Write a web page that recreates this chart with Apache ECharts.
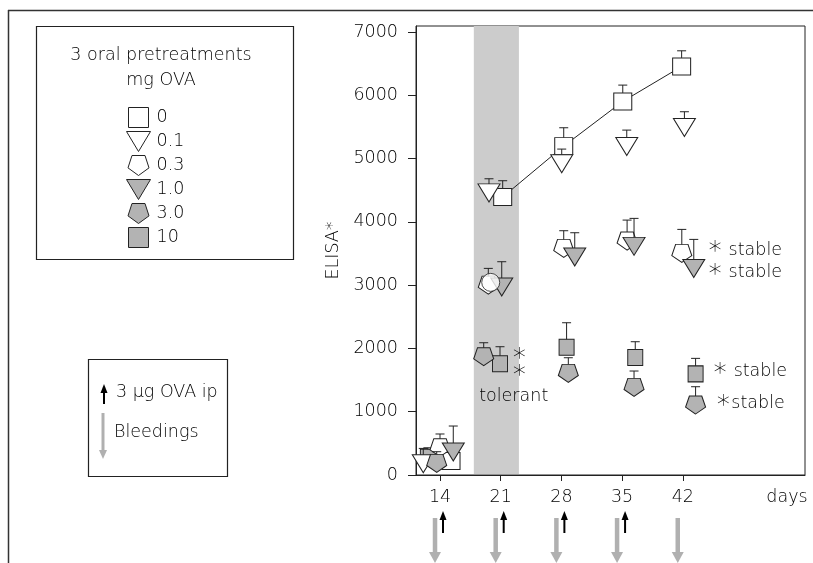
<!DOCTYPE html>
<html>
<head>
<meta charset="utf-8">
<script src="https://cdn.jsdelivr.net/npm/echarts@6/dist/echarts.min.js"></script>
<style>
  html, body { margin: 0; padding: 0; background: #fff; }
  #chart { width: 813px; height: 563px; }
</style>
</head>
<body>
<div id="chart"></div>
<script>
// ---- data ----
var tickDays = [14, 21, 28, 35, 42];
var yTicks = [0, 1000, 2000, 3000, 4000, 5000, 6000, 7000];
var doses = ['0', '0.1', '0.3', '1.0', '3.0', '10'];

// x = day as plotted (points are offset around each bleeding day), y = mean, e = top of error bar
var x0 = [15.27, 21.23, 28.27, 35.08, 41.87];
var y0 = [220, 4392, 5197, 5903, 6456];
var e0 = [null, 4650, 5487, 6161, 6703];

var x01 = [12.07, 19.65, 28.04, 35.54, 42.19];
var y01 = [178, 4458, 4918, 5192, 5490];
var e01 = [420, 4681, 5150, 5450, 5740];

var x03 = [14.0, 19.57, 28.27, 35.58, 41.89];
var y03 = [431, 3000, 3581, 3697, 3502];
var e03 = [648, 3265, 3860, 4028, 3881];

var x1 = [15.53, 21.12, 29.54, 36.38, 43.27];
var y1 = [363, 2970, 3444, 3613, 3262];
var e1 = [774, 3370, 3828, 4055, 3723];

var x3 = [13.62, 19.04, 28.8, 36.38, 43.48];
var y3 = [184, 1869, 1606, 1385, 1106];
var e3 = [368, 2090, 1853, 1643, 1395];

var x10 = [12.6, 20.92, 28.6, 36.52, 43.48];
var y10 = [280, 1758, 2019, 1856, 1598];
var e10 = [430, 2027, 2406, 2106, 1843];

// stray open circle drawn over the 0.3 mg point on day 21
var circleX = [19.85];
var circleY = [3044];

var tolerantBand = [17.9, 23.1];
var injectDays = [14, 21, 28, 35];
var bleedDays = [14, 21, 28, 35, 42];

// [day, value, text, align]  ({s|...} = significance star)
var notes = [
  [23.12, 1869, '{s|\u2217}', 'center'],
  [23.12, 1607, '{s|\u2217}', 'center'],
  [22.5, 1237, 'tolerant', 'center'],
  [44.77, 3554, '{s|\u2217} stable', 'left'],
  [44.77, 3202, '{s|\u2217} stable', 'left'],
  [45.35, 1632, '{s|\u2217} stable', 'left'],
  [45.73, 1133, '{s|\u2217}stable', 'left']
];

// ---- styles ----
var FONT = 'DejaVu Sans';
var FS = 17.5;
var FW = 200;
var FONT_CSS = FW + ' ' + FS + 'px "' + FONT + '"';
var INK = '#222';
var TXT = '#000';
var GRAY = '#b3b3b3';
var SQ = 'path://M0,0H1V1H0Z';
var TRI = 'path://M0,0H2.4L1.2,2Z';
var PENT = 'path://M0.951,1.809L0,1.118L0.363,0L1.539,0L1.902,1.118Z';

// z: draw order of each group (the 10 mg squares sit underneath the rest)
var groups = [
  { x: x0, y: y0, e: e0, sym: SQ, size: [18, 17], fill: '#fff', z: 4 },
  { x: x01, y: y01, e: e01, sym: TRI, size: [22, 18], fill: '#fff', z: 6 },
  { x: x03, y: y03, e: e03, sym: PENT, size: [20, 18], fill: '#fff', z: 8 },
  { x: x1, y: y1, e: e1, sym: TRI, size: [22, 18], fill: GRAY, z: 10 },
  { x: x3, y: y3, e: e3, sym: PENT, size: [20, 18], fill: GRAY, z: 12 },
  { x: x10, y: y10, e: e10, sym: SQ, size: [15, 16], fill: GRAY, z: 2 }
];

function zip(xs, ys) {
  return xs.map(function (v, i) { return [v, ys[i]]; });
}

function errItem(params, api) {
  var p0 = api.coord([api.value(0), api.value(1)]);
  var p1 = api.coord([api.value(0), api.value(2)]);
  var st = { stroke: INK, lineWidth: 1 };
  return { type: 'group', children: [
    { type: 'line', shape: { x1: p0[0], y1: p0[1], x2: p1[0], y2: p1[1] }, style: st },
    { type: 'line', shape: { x1: p1[0] - 4.5, y1: p1[1], x2: p1[0] + 4.5, y2: p1[1] }, style: st }
  ] };
}

var series = [];

// tolerant band
series.push({
  type: 'custom', z: 0, silent: true,
  data: [[tolerantBand[0], tolerantBand[1]]],
  renderItem: function (params, api) {
    var a = api.coord([api.value(0), 15]);
    var b = api.coord([api.value(1), 0]);
    var top = params.coordSys.y;
    return { type: 'rect', shape: { x: a[0], y: top, width: b[0] - a[0], height: a[1] - top },
             style: { fill: '#cccccc' } };
  }
});

// line through the 0 mg group from day 21 on
series.push({
  type: 'line', z: 1, silent: true, showSymbol: false,
  data: zip(x0.slice(1), y0.slice(1)),
  lineStyle: { color: INK, width: 1 }
});

groups.forEach(function (g, i) {
  var err = [];
  g.x.forEach(function (v, k) { if (g.e[k] != null) err.push([v, g.y[k], g.e[k]]); });
  series.push({ type: 'custom', z: g.z, silent: true, data: err, renderItem: errItem });
  series.push({
    type: 'scatter', name: doses[i], z: g.z + 1,
    data: zip(g.x, g.y),
    symbol: g.sym, symbolSize: g.size,
    itemStyle: { color: g.fill, borderColor: INK, borderWidth: 1, opacity: 1 }
  });
});

series.push({
  type: 'scatter', name: 'circle', z: 20,
  data: zip(circleX, circleY), symbol: 'circle', symbolSize: 18,
  itemStyle: { color: '#fff', borderColor: INK, borderWidth: 1 }
});

// injection (black, up) and bleeding (gray, down) arrows under the day axis
function arrowSeries(days, kind) {
  return {
    type: 'custom', z: 5, silent: true, clip: false,
    data: days.map(function (d) { return [d, 0]; }),
    renderItem: function (params, api) {
      var p = api.coord([api.value(0), 0]);
      if (kind === 'up') {
        var x = p[0] + 3, y = p[1];
        return { type: 'group', children: [
          { type: 'line', shape: { x1: x, y1: y + 43, x2: x, y2: y + 58 }, style: { stroke: '#000', lineWidth: 2 } },
          { type: 'polygon', shape: { points: [[x, y + 36], [x - 3.5, y + 45], [x + 3.5, y + 45]] }, style: { fill: '#000' } }
        ] };
      }
      var gx = p[0] - 5, gy = p[1];
      return { type: 'group', children: [
        { type: 'line', shape: { x1: gx, y1: gy + 43, x2: gx, y2: gy + 78 }, style: { stroke: '#b0b0b0', lineWidth: 4.5 } },
        { type: 'polygon', shape: { points: [[gx - 6, gy + 77], [gx + 6, gy + 77], [gx, gy + 88]] }, style: { fill: '#b0b0b0' } }
      ] };
    }
  };
}
series.push(arrowSeries(injectDays, 'up'));
series.push(arrowSeries(bleedDays, 'down'));

// text notes
series.push({
  type: 'custom', z: 30, silent: true, clip: false,
  data: notes.map(function (n) { return [n[0], n[1]]; }),
  renderItem: function (params, api) {
    var n = notes[params.dataIndex];
    var p = api.coord([api.value(0), api.value(1)]);
    return { type: 'text', x: p[0], y: p[1],
             style: { text: n[2], fill: TXT, fontFamily: FONT, fontSize: FS, fontWeight: FW,
                      align: n[3], verticalAlign: 'middle',
                      rich: { s: { fontFamily: FONT, fontSize: 26, fontWeight: FW, fill: TXT, color: TXT,
                                   padding: [0, 0, 5, 0] } } } };
  }
});

function label(x, y, text, align) {
  return { type: 'text', x: x, y: y,
           style: { text: text, font: FONT_CSS, fill: TXT, align: align || 'left', verticalAlign: 'middle' } };
}

var chart = echarts.init(document.getElementById('chart'));
chart.setOption({
  animation: false,
  textStyle: { fontFamily: FONT, fontWeight: FW },
  grid: { left: 416, top: 26, right: 8, bottom: 88, show: true, borderColor: INK, borderWidth: 1 },
  xAxis: {
    type: 'value', min: 11.23, max: 56.1,
    axisLine: { lineStyle: { color: INK } },
    axisTick: { customValues: tickDays, length: 6, lineStyle: { color: INK } },
    axisLabel: { customValues: tickDays, margin: 13, fontSize: FS, fontWeight: FW, color: TXT, fontFamily: FONT },
    splitLine: { show: false }
  },
  yAxis: {
    type: 'value', min: 0, max: 7095,
    name: 'ELISA*', nameLocation: 'middle', nameGap: 74, nameRotate: 90,
    nameTextStyle: { fontSize: FS, fontWeight: FW, color: TXT, fontFamily: FONT },
    axisLine: { show: true, lineStyle: { color: INK } },
    axisTick: { customValues: yTicks, length: 8, lineStyle: { color: INK } },
    axisLabel: { customValues: yTicks, margin: 18, fontSize: FS, fontWeight: FW, color: TXT, fontFamily: FONT,
                 formatter: function (v) { return String(v); } },
    splitLine: { show: false }
  },
  legend: {
    data: doses, orient: 'vertical', left: 121, top: 102,
    itemWidth: 24, itemHeight: 20, itemGap: 3, selectedMode: false,
    symbolKeepAspect: true,
    itemStyle: { borderColor: INK, borderWidth: 1 },
    textStyle: { fontFamily: FONT, fontSize: FS, fontWeight: FW, color: TXT, padding: [0, 0, 0, 1] }
  },
  graphic: [
    { type: 'line', shape: { x1: 8, y1: 10.5, x2: 813, y2: 10.5 }, style: { stroke: '#333', lineWidth: 1.5 } },
    { type: 'line', shape: { x1: 8.5, y1: 10, x2: 8.5, y2: 563 }, style: { stroke: '#333', lineWidth: 1.5 } },
    { type: 'rect', shape: { x: 36.5, y: 26.5, width: 257, height: 233 }, style: { fill: 'none', stroke: INK, lineWidth: 1.2 } },
    label(161, 55, '3 oral pretreatments', 'center'),
    label(161, 80, 'mg OVA', 'center'),
    { type: 'rect', shape: { x: 88.5, y: 359.5, width: 139, height: 117 }, style: { fill: 'none', stroke: INK, lineWidth: 1.2 } },
    { type: 'line', shape: { x1: 104, y1: 391, x2: 104, y2: 404 }, style: { stroke: '#000', lineWidth: 2 } },
    { type: 'polygon', shape: { points: [[104, 384], [100.5, 393], [107.5, 393]] }, style: { fill: '#000' } },
    label(116, 392, '3 \u03bcg OVA ip'),
    { type: 'line', shape: { x1: 103, y1: 413, x2: 103, y2: 451 }, style: { stroke: '#b0b0b0', lineWidth: 3 } },
    { type: 'polygon', shape: { points: [[99, 450], [107, 450], [103, 459]] }, style: { fill: '#b0b0b0' } },
    label(114, 432, 'Bleedings'),
    label(787, 497, 'days', 'center')
  ],
  series: series
});
</script>
</body>
</html>
